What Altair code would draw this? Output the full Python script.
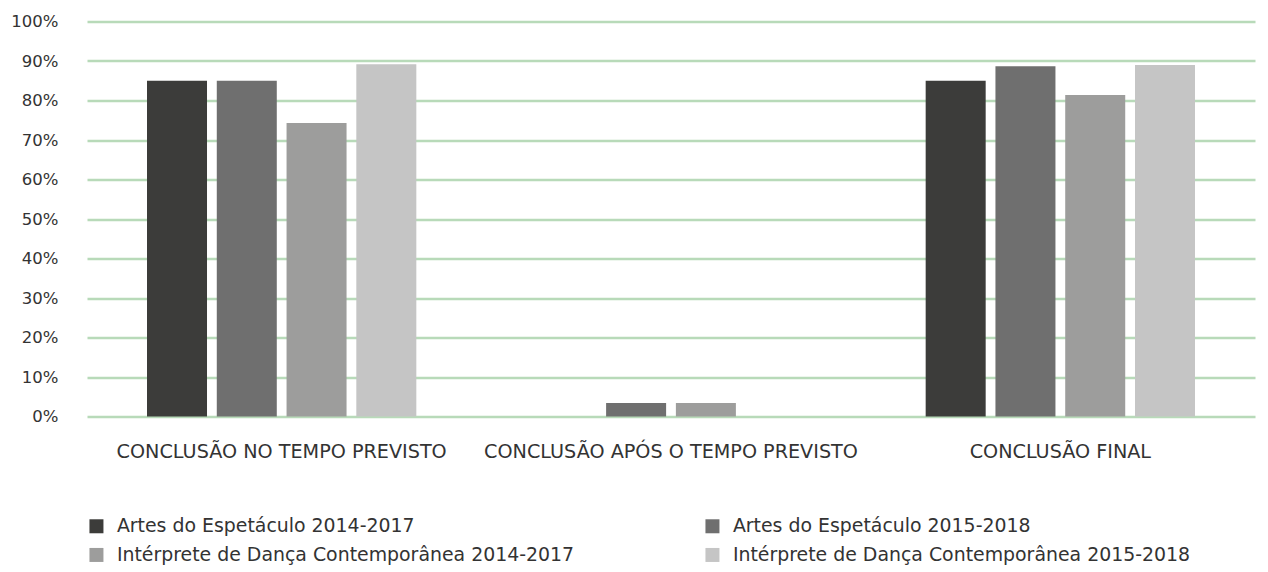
import altair as alt
import pandas as pd

categories = ["CONCLUSÃO NO TEMPO PREVISTO", "CONCLUSÃO APÓS O TEMPO PREVISTO", "CONCLUSÃO FINAL"]
series = [
    "Artes do Espetáculo 2014-2017",
    "Artes do Espetáculo 2015-2018",
    "Intérprete de Dança Contemporânea 2014-2017",
    "Intérprete de Dança Contemporânea 2015-2018",
]
values = {
    series[0]: [0.85, 0.0, 0.85],
    series[1]: [0.85, 0.034, 0.887],
    series[2]: [0.743, 0.034, 0.814],
    series[3]: [0.892, 0.0, 0.89],
}
colors = ["#3c3c3a", "#6f6f6f", "#9d9d9c", "#c5c5c5"]
# legend laid out column by column: order entries so rows read as in the reference
legend_order = [series[0], series[2], series[1], series[3]]
legend_colors = [colors[0], colors[2], colors[1], colors[3]]

rows = []
for s in series:
    for c, v in zip(categories, values[s]):
        rows.append({"cat": c, "serie": s, "val": v})
df = pd.DataFrame(rows)

font = "DejaVu Sans"
chart = alt.Chart(df).mark_bar().encode(
    x=alt.X("cat:N", sort=categories, title=None,
            scale=alt.Scale(paddingInner=0, paddingOuter=0),
            axis=alt.Axis(labelAngle=0, domain=False, ticks=False, labelPadding=26,
                          labelFontSize=19.2, labelColor="#333333", labelFont=font, labelLimit=500)),
    xOffset=alt.XOffset("serie:N", sort=series,
                        scale=alt.Scale(paddingInner=0.14, paddingOuter=0.86)),
    y=alt.Y("val:Q", title=None,
            scale=alt.Scale(domain=[0, 1], nice=False),
            axis=alt.Axis(format=".0%", values=[i / 10 for i in range(11)], domain=False, ticks=False,
                          labelPadding=29, labelFontSize=16.5, labelColor="#333333", labelFont=font,
                          gridColor="#b8dab9", gridWidth=2.5)),
    color=alt.Color("serie:N", title=None,
                    scale=alt.Scale(domain=legend_order, range=legend_colors),
                    legend=alt.Legend(orient="none", legendX=0, legendY=495, columns=2,
                                      columnPadding=128, rowPadding=9,
                                      symbolType="square", symbolSize=196, symbolStrokeWidth=0,
                                      labelFontSize=18.9, labelColor="#333333", labelFont=font,
                                      labelOffset=11, labelLimit=600)),
).properties(
    width=1168, height=395,
    autosize=alt.AutoSizeParams(type="none"),
    padding={"left": 79, "top": 13.5, "right": 5, "bottom": 150},
).configure_view(stroke=None)

chart.save("out.html", embed_options={"renderer": "svg", "actions": False})
